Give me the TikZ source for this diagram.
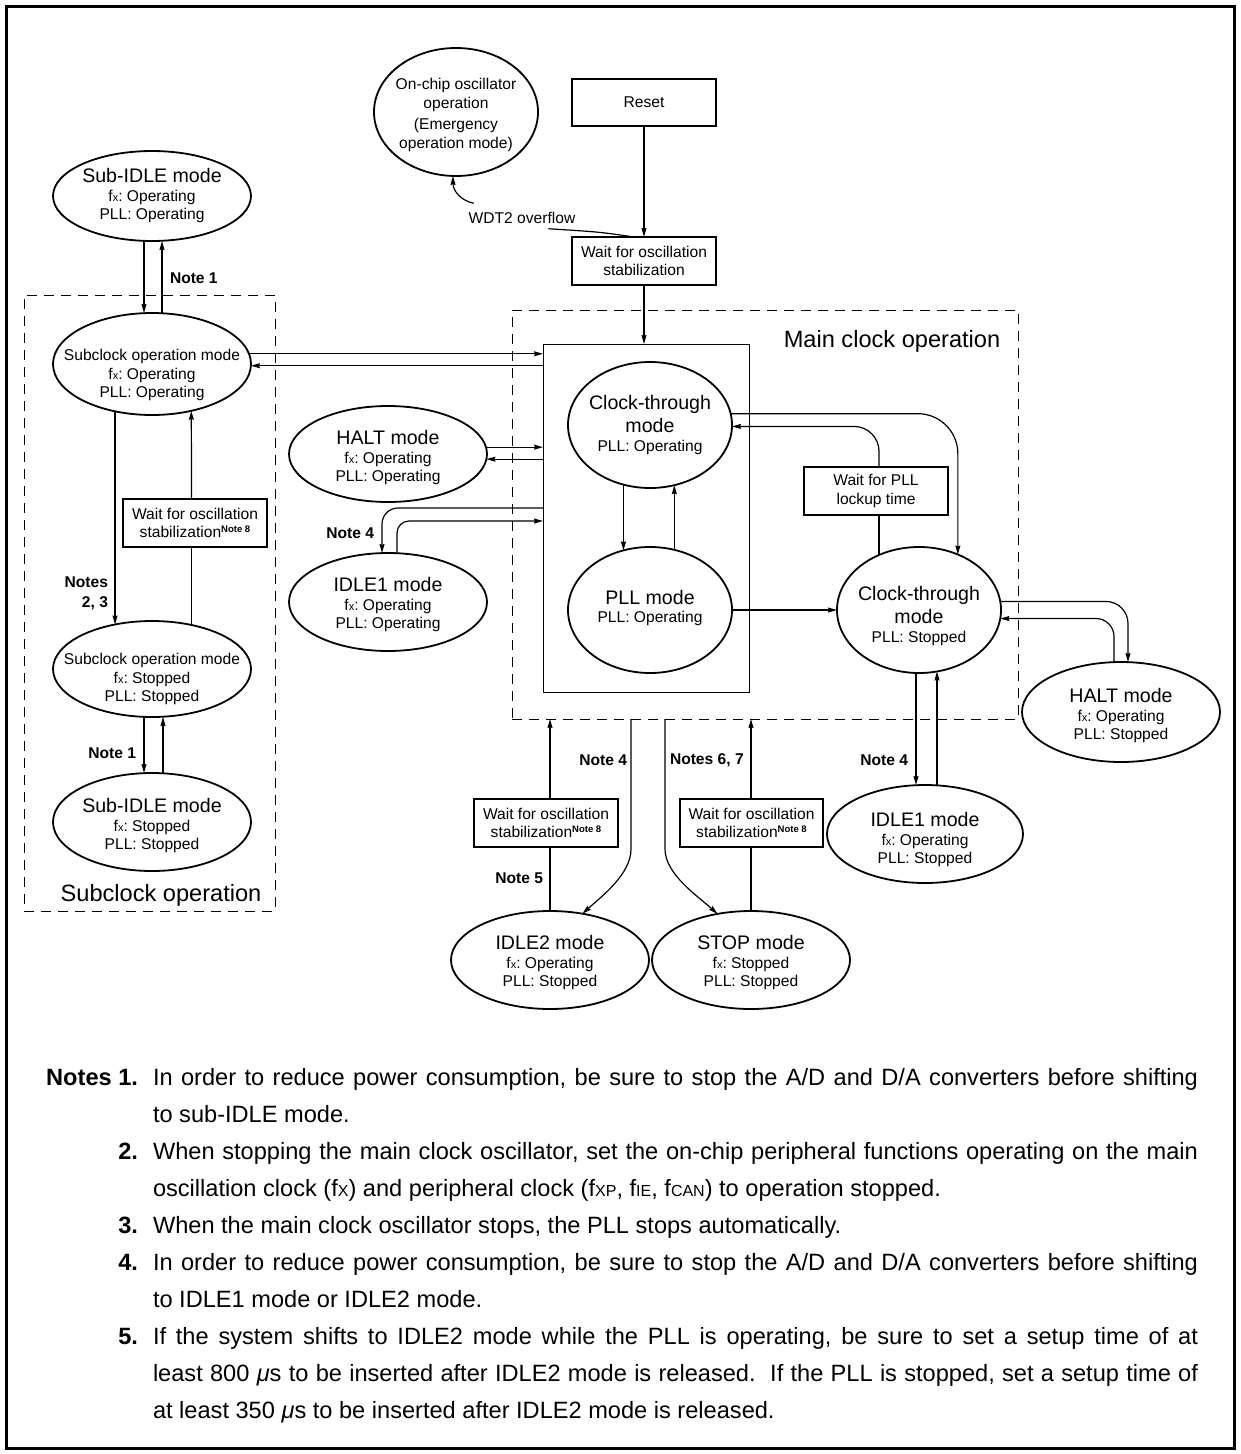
\documentclass[tikz,border=0pt]{standalone}
\usepackage{fontspec}
\setmainfont{Liberation Sans}
\usetikzlibrary{arrows.meta,calc,shapes.geometric}
\newcommand\dgS{\fontsize{15.6}{18.5}\selectfont}
\newcommand\dgSB{\fontsize{15.6}{20}\selectfont\bfseries}
\newcommand\dgT{\fontsize{19.6}{23.5}\selectfont}
\newcommand\dgB{\fontsize{23.6}{28}\selectfont}
\newcommand\dgN{\fontsize{23.6}{37.1}\selectfont}
\newcommand\fxd{f{\fontsize{11}{11}\selectfont x}}
\newcommand\sx[1]{{\fontsize{16}{16}\selectfont #1}}
\newcommand\noteeight{\raisebox{5pt}{\fontsize{9.5}{9.5}\selectfont\bfseries Note 8}}
\frenchspacing
\begin{document}
\begin{tikzpicture}[x=1pt,y=-1pt,
  every node/.style={inner sep=0pt, outer sep=0pt},
  mode/.style={draw, ellipse, line width=1.8pt, inner sep=0pt},
  box/.style={draw, rectangle, line width=1.8pt, inner sep=0pt, align=center, font=\dgS},
  txt/.style={align=center, font=\dgS},
  arr/.style={line width=1.2pt, -{Stealth[length=9pt,width=5pt,inset=1pt]}},
  ln/.style={line width=1.2pt},
  dashbox/.style={draw, dash pattern=on 10pt off 7pt, line width=1pt},
  notelbl/.style={font=\dgSB, align=right},
  numlbl/.style={font=\dgN\bfseries, anchor=base east},
  notetxt/.style={font=\dgN, anchor=base west}]
\useasboundingbox (0,0) rectangle (1240,1454);
\draw[line width=3pt] (6,6) rectangle (1234,1448);

% containers
\node[dashbox, minimum width=251pt, minimum height=616pt] (subbox) at (149.5,603) {};
\node[dashbox, minimum width=506pt, minimum height=409pt] (mainbox) at (765,514.5) {};
\node[draw, line width=1pt, minimum width=206pt, minimum height=348pt] (inner) at (646,518) {};
\node[font=\dgB] (subLbl) at (161,895) {Subclock operation};
\node[font=\dgB] (mainLbl) at (892,341) {Main clock operation};

% top
\node[mode, minimum width=164pt, minimum height=128pt] (onchip) at (456,112) {};
\node[txt] (onchipT) at (456,115) {On-chip oscillator\\operation\\[3pt](Emergency\\operation mode)};
\node[box, minimum width=144pt, minimum height=47pt] (reset) at (644,102.5) {Reset};
\node[box, minimum width=144pt, minimum height=48pt] (waitA) at (644,261) {Wait for oscillation\\stabilization};
\node[font=\dgS] (wdt) at (522,218) {WDT2 overflow};

% subclock column
\node[mode, minimum width=198pt, minimum height=90pt] (subA) at (152,196) {};
\node[txt] (subAT) at (152,196) {{\dgT Sub-IDLE mode}\\\fxd: Operating\\PLL: Operating};
\node[mode, minimum width=198pt, minimum height=102pt] (subB) at (152,364) {};
\node[txt] (subBT) at (152,375) {Subclock operation mode\\\fxd: Operating\\PLL: Operating};
\node[mode, minimum width=198pt, minimum height=96pt] (subC) at (152,669) {};
\node[txt] (subCT) at (152,679) {Subclock operation mode\\\fxd: Stopped\\PLL: Stopped};
\node[mode, minimum width=198pt, minimum height=98pt] (subD) at (152,822) {};
\node[txt] (subDT) at (152,826) {{\dgT Sub-IDLE mode}\\\fxd: Stopped\\PLL: Stopped};
\node[box, minimum width=144pt, minimum height=48pt] (waitL) at (195,523) {Wait for oscillation\\stabilization\noteeight};

% left middle column
\node[mode, minimum width=198pt, minimum height=96pt] (haltA) at (388,454) {};
\node[txt] (haltAT) at (388,458) {{\dgT HALT mode}\\\fxd: Operating\\PLL: Operating};
\node[mode, minimum width=198pt, minimum height=98pt] (idleA) at (388,602) {};
\node[txt] (idleAT) at (388,605) {{\dgT IDLE1 mode}\\\fxd: Operating\\PLL: Operating};

% main clock
\node[mode, minimum width=164pt, minimum height=126pt] (ctA) at (650,425) {};
\node[txt] (ctAT) at (650,425) {{\dgT Clock-through}\\[5pt]{\dgT mode}\\PLL: Operating};
\node[mode, minimum width=164pt, minimum height=126pt] (pll) at (650,610) {};
\node[txt] (pllT) at (650,608) {{\dgT PLL mode}\\PLL: Operating};
\node[mode, minimum width=164pt, minimum height=126pt] (ctB) at (919,610) {};
\node[txt] (ctBT) at (919,616) {{\dgT Clock-through}\\[5pt]{\dgT mode}\\PLL: Stopped};
\node[box, minimum width=144pt, minimum height=48pt] (waitP) at (876,491) {Wait for PLL\\lockup time};

% right
\node[mode, minimum width=198pt, minimum height=100pt] (haltB) at (1121,712) {};
\node[txt] (haltBT) at (1121,716) {{\dgT HALT mode}\\\fxd: Operating\\PLL: Stopped};
\node[mode, minimum width=196pt, minimum height=98pt] (idleB) at (925,834) {};
\node[txt] (idleBT) at (925,840) {{\dgT IDLE1 mode}\\\fxd: Operating\\PLL: Stopped};

% bottom
\node[mode, minimum width=198pt, minimum height=98pt] (idle2) at (550,960) {};
\node[txt] (idle2T) at (550,963) {{\dgT IDLE2 mode}\\\fxd: Operating\\PLL: Stopped};
\node[mode, minimum width=198pt, minimum height=98pt] (stop) at (751,960) {};
\node[txt] (stopT) at (751,963) {{\dgT STOP mode}\\\fxd: Stopped\\PLL: Stopped};
\node[box, minimum width=144pt, minimum height=48pt] (waitI) at (546,823) {Wait for oscillation\\stabilization\noteeight};
\node[box, minimum width=143pt, minimum height=48pt] (waitS) at (751.5,823) {Wait for oscillation\\stabilization\noteeight};

% note labels
\node[notelbl, anchor=west] (n1a) at (170,278) {Note 1};
\node[notelbl, anchor=east] (n23) at (108,593) {Notes\\2, 3};
\node[notelbl, anchor=east] (n4a) at (374,533) {Note 4};
\node[notelbl, anchor=east] (n1b) at (136,753) {Note 1};
\node[notelbl, anchor=east] (n4b) at (627,760) {Note 4};
\node[notelbl, anchor=west] (n67) at (670,760) {Notes 6, 7};
\node[notelbl, anchor=east] (n4c) at (908,760) {Note 4};
\node[notelbl, anchor=east] (n5) at (543,878) {Note 5};

% connectors: top
\draw[arr] (reset.south) -- (waitA.north);
\draw[arr] (waitA.south) -- (waitA.south |- inner.north);
\draw[ln] ([xshift=-10pt]waitA.north) .. controls (600,232) .. ($(wdt.south east)+(-27,5)$);
\draw[arr] ($(wdt.north west)+(5,-9)$) .. controls +(-14,-3) and +(0,14) .. ([xshift=-3pt]onchip.south);

% subclock column
\draw[arr] ([xshift=-8pt]subA.south) -- ([xshift=-8pt]subB.north);
\draw[arr] ([xshift=10pt]subB.north) -- ([xshift=10pt]subA.south);
\draw[arr] (subB.232) -- (subB.232 |- subC.130);
\draw[ln] (subC.48) -- (subC.48 |- waitL.south);
\draw[arr] (subC.48 |- waitL.north) -- (subB.310);
\draw[arr] ([xshift=-8pt]subC.south) -- ([xshift=-8pt]subD.north);
\draw[arr] ([xshift=11pt]subD.north) -- ([xshift=11pt]subC.south);
\draw[arr] (subB.6) -- (subB.6 -| inner.west);
\draw[arr] (subB.359 -| inner.west) -- (subB.359);

% halt / idle1 left
\draw[arr] (haltA.4) -- (haltA.4 -| inner.west);
\draw[arr] (haltA.357 -| inner.west) -- (haltA.357);
\draw[arr, rounded corners=16pt] ($(inner.west)+(0,-10)$) -| ([xshift=-6pt]idleA.north);
\draw[arr, rounded corners=12pt] ([xshift=9pt]idleA.north) |- ($(inner.west)+(0,3)$);

% main clock internal
\draw[arr] (ctA.246) -- (ctA.246 |- pll.114);
\draw[arr] (pll.68) -- (pll.68 |- ctA.292);
\draw[arr] (pll.east) -- (ctB.west);
\draw[arr, rounded corners=40pt] (ctA.8) -| (ctB.55);
\draw[ln] (ctB.126) -- (ctB.126 |- waitP.south);
\draw[arr, rounded corners=25pt] (ctB.126 |- waitP.north) |- (ctA.359);

% right side
\draw[arr, rounded corners=22pt] (ctB.6) -| ([xshift=7pt]haltB.north);
\draw[arr, rounded corners=18pt] ([xshift=-7pt]haltB.north) |- (ctB.354);
\draw[arr] ([xshift=-3pt]ctB.south) -- ([xshift=-3pt]ctB.south |- idleB.north);
\draw[arr] ([xshift=12pt]idleB.north) -- ([xshift=12pt]idleB.north |- ctB.286);

% bottom
\draw[ln] (idle2.north) -- (idle2.north |- waitI.south);
\draw[arr] (idle2.north |- waitI.north) -- (idle2.north |- mainbox.south);
\draw[arr] ($(mainbox.south west)+(119,0)$) -- ++(0,130) .. controls +(0,25) and +(20,-18) .. (idle2.55);
\draw[arr] ($(mainbox.south west)+(153,0)$) -- ++(0,130) .. controls +(0,25) and +(-20,-18) .. (stop.126);
\draw[ln] (stop.north) -- (stop.north |- waitS.south);
\draw[arr] (stop.north |- waitS.north) -- (stop.north |- mainbox.south);

% notes
\node[numlbl] (k1) at (138,1085) {Notes 1.};
\node[notetxt] (t1) at (153,1085) {\parbox[t]{1045pt}{\dgN In order to reduce power consumption, be sure to stop the A/D and D/A converters before shifting\linebreak to sub-IDLE mode.}};
\node[numlbl] (k2) at (138,1159.2) {2.};
\node[notetxt] (t2) at (153,1159.2) {\parbox[t]{1045pt}{\dgN When stopping the main clock oscillator, set the on-chip peripheral functions operating on the main\linebreak oscillation clock (f\sx{X}) and peripheral clock (f\sx{XP}, f\sx{IE}, f\sx{CAN}) to operation stopped.}};
\node[numlbl] (k3) at (138,1233.4) {3.};
\node[notetxt] (t3) at (153,1233.4) {\parbox[t]{1045pt}{\dgN When the main clock oscillator stops, the PLL stops automatically.}};
\node[numlbl] (k4) at (138,1270.5) {4.};
\node[notetxt] (t4) at (153,1270.5) {\parbox[t]{1045pt}{\dgN In order to reduce power consumption, be sure to stop the A/D and D/A converters before shifting\linebreak to IDLE1 mode or IDLE2 mode.}};
\node[numlbl] (k5) at (138,1344.7) {5.};
\node[notetxt] (t5) at (153,1344.7) {\parbox[t]{1045pt}{\dgN If the system shifts to IDLE2 mode while the PLL is operating, be sure to set a setup time of at\linebreak least 800 \textit{μ}s to be inserted after IDLE2 mode is released.\ \ If the PLL is stopped, set a setup time of\linebreak at least 350 \textit{μ}s to be inserted after IDLE2 mode is released.}};
\end{tikzpicture}
\end{document}
